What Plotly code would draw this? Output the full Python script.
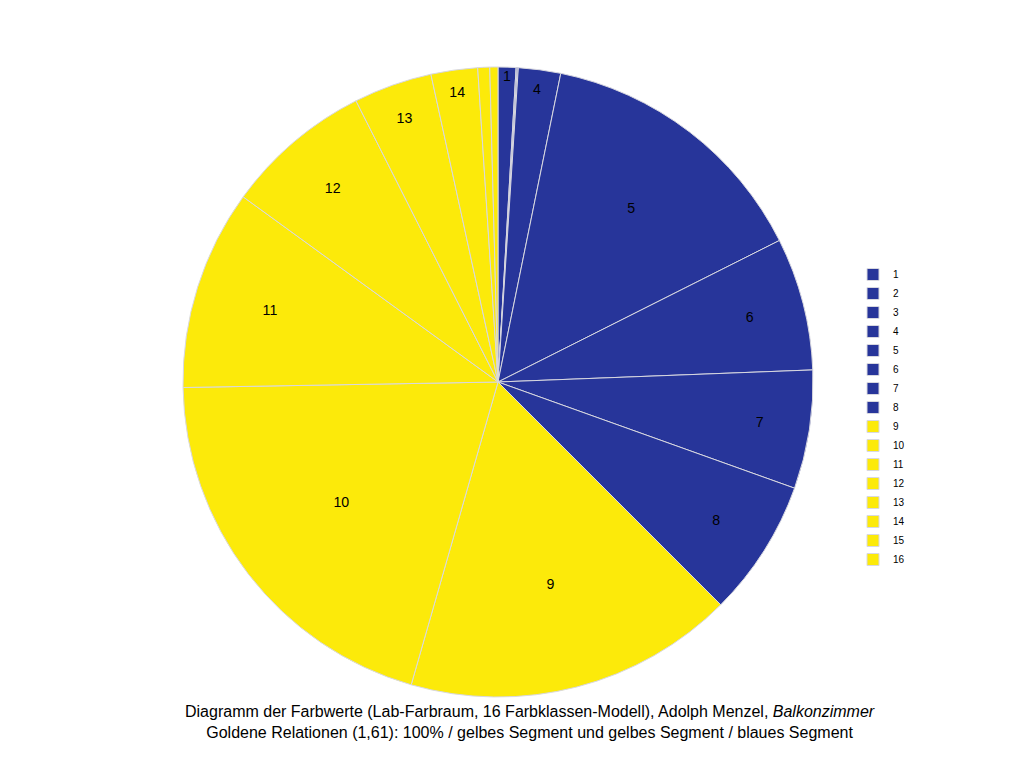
import plotly.graph_objects as go

labels = [str(i) for i in range(1, 17)]
values = [3.3, 0.2, 0.2, 7.8, 51.8, 24.5, 21.9, 25.3, 61, 73, 37, 27.2, 14.5, 8.6, 2.2, 1.5]
blue = "#27359a"
yellow = "#fcea0a"
colors = [blue] * 8 + [yellow] * 8

fig = go.Figure(go.Pie(
    labels=labels, values=values, sort=False, direction="clockwise", rotation=0,
    marker=dict(colors=colors, line=dict(color="#d8d8e0", width=1)),
    textinfo="label", textposition="inside", insidetextorientation="horizontal",
    textfont=dict(family="Liberation Sans, Arial", size=18, color="black"),
    domain=dict(x=[175/1024, 805/1024], y=[1-689/768, 1-59/768]),
    hoverinfo="label+value",
))
fig.update_layout(
    width=1024, height=768, paper_bgcolor="white",
    margin=dict(l=0, r=0, t=0, b=0),
    font=dict(family="Liberation Sans, Arial"),
    legend=dict(x=845/1024, y=1-252/768, xanchor="left", yanchor="top",
                font=dict(size=10, color="black"), itemwidth=30, tracegroupgap=0),
    uniformtext=dict(minsize=10, mode="hide"),
    annotations=[dict(
        text="Diagramm der Farbwerte (Lab-Farbraum, 16 Farbklassen-Modell), Adolph Menzel, <i>Balkonzimmer</i><br>Goldene Relationen (1,61): 100% / gelbes Segment und gelbes Segment / blaues Segment",
        x=0.51, y=1-735/768, xref="paper", yref="paper", showarrow=False,
        font=dict(size=16, color="black"), align="center")],
)
fig.write_html("out.html")
